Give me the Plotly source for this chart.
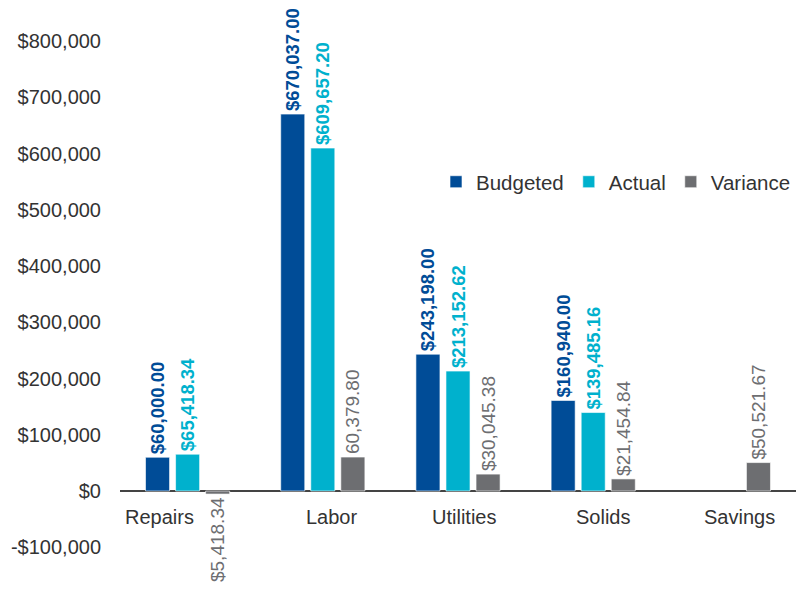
import plotly.graph_objects as go

categories = ["Repairs", "Labor", "Utilities", "Solids", "Savings"]
budgeted = [60000.00, 670037.00, 243198.00, 160940.00, None]
actual = [65418.34, 609657.20, 213152.62, 139485.16, None]
variance = [-5418.34, 60379.80, 30045.38, 21454.84, 50521.67]

budgeted_text = ["$60,000.00", "$670,037.00", "$243,198.00", "$160,940.00", ""]
actual_text = ["$65,418.34", "$609,657.20", "$213,152.62", "$139,485.16", ""]
variance_text = ["$5,418.34", "60,379.80", "$30,045.38", "$21,454.84", "$50,521.67"]

tick_vals = [-100000, 0, 100000, 200000, 300000, 400000, 500000, 600000, 700000, 800000]
tick_text = ["-$100,000", "$0", "$100,000", "$200,000", "$300,000", "$400,000",
             "$500,000", "$600,000", "$700,000", "$800,000"]

# horizontal nudges of category labels (pixels), as in the original layout
label_shift = [-28, 9, 6, 10, 11]

C_BUD = "#004c97"
C_ACT = "#00b1cd"
C_VAR = "#6d6e71"
FONT = "Liberation Sans"

fig = go.Figure()
for name, vals, txt, col, bold, fs in [
    ("Budgeted", budgeted, budgeted_text, C_BUD, True, 18.5),
    ("Actual", actual, actual_text, C_ACT, True, 18.5),
    ("Variance", variance, variance_text, C_VAR, False, 19),
]:
    fig.add_trace(go.Bar(
        name=name, x=categories, y=vals, text=txt,
        textposition="outside", textangle=-90, constraintext="none",
        cliponaxis=False,
        textfont=dict(family=FONT, size=fs, color=col, weight="bold" if bold else "normal"),
        marker=dict(color=col, line=dict(color="rgba(255,255,255,0.6)", width=1)),
    ))

for c, dx in zip(categories, label_shift):
    fig.add_annotation(x=c, y=0, xref="x", yref="y", text=c, showarrow=False,
                       yanchor="top", yshift=-13, xshift=dx,
                       font=dict(family=FONT, size=20, color="#333333"))

fig.update_layout(
    width=796, height=593,
    margin=dict(l=120, r=0, t=30, b=30),
    paper_bgcolor="white", plot_bgcolor="white",
    barmode="group", bargap=0.333, bargroupgap=0.2,
    font=dict(family=FONT, color="#333333"),
    legend=dict(orientation="h", x=1.0, xanchor="right", y=0.715, yanchor="middle",
                font=dict(family=FONT, size=20.5, color="#333333"),
                itemwidth=30, traceorder="normal"),
    showlegend=True,
)
fig.update_xaxes(showticklabels=False, showgrid=False, showline=False,
                 range=[-0.5, 4.5])
fig.update_yaxes(range=[-128000, 819556], tickvals=tick_vals, ticktext=tick_text,
                 showgrid=False, showline=False, zeroline=True,
                 zerolinecolor="#444444", zerolinewidth=1.5,
                 tickfont=dict(family=FONT, size=20, color="#333333"),
                 ticklabelstandoff=18)

fig.write_html("out.html")
